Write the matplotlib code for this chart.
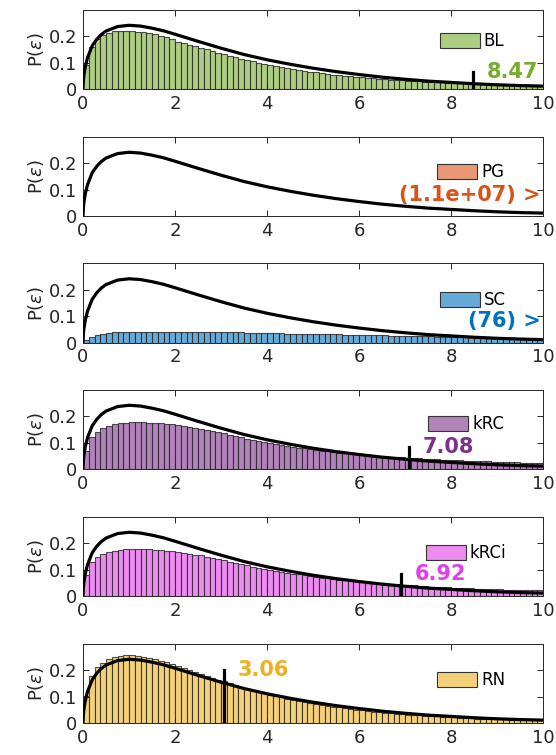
import matplotlib
matplotlib.use('Agg')
import matplotlib.pyplot as plt
import numpy as np

# reference curve P(eps)
curve_x = [0, 0.01, 0.02, 0.05, 0.1, 0.2, 0.3, 0.4, 0.5, 0.75, 1.0, 1.25, 1.5, 1.75, 2.0,
           2.5, 3.0, 3.5, 4.0, 4.5, 5.0, 5.5, 6.0, 6.5, 7.0, 7.5, 8.0, 8.5, 9.0, 9.5, 10.0]
curve_y = [0, 0.035, 0.052, 0.085, 0.12, 0.164, 0.189, 0.207, 0.22, 0.237, 0.242, 0.239,
           0.231, 0.221, 0.208, 0.181, 0.155, 0.131, 0.111, 0.094, 0.079, 0.066, 0.055,
           0.045, 0.037, 0.030, 0.025, 0.020, 0.016, 0.013, 0.011]

bin_width = 0.125

names = ['BL', 'PG', 'SC', 'kRC', 'kRCi', 'RN']
colors = ['#77ac30', '#d95319', '#0072bd', '#7e2f8e', '#df3fe8', '#edb120']

bl_hist = [0.090, 0.160, 0.190, 0.205, 0.214, 0.219, 0.222, 0.222, 0.220, 0.218, 0.215, 0.211, 0.207, 0.202, 0.197, 0.191,
           0.180, 0.174, 0.168, 0.162, 0.156, 0.150, 0.144, 0.138, 0.132, 0.126, 0.120, 0.115, 0.110, 0.105, 0.100, 0.095,
           0.090, 0.086, 0.082, 0.078, 0.075, 0.072, 0.069, 0.066, 0.063, 0.060, 0.058, 0.055, 0.053, 0.051, 0.049, 0.047,
           0.045, 0.043, 0.041, 0.039, 0.038, 0.036, 0.035, 0.033, 0.032, 0.031, 0.029, 0.028, 0.027, 0.026, 0.025, 0.024,
           0.023, 0.022, 0.021, 0.020, 0.019, 0.018, 0.017, 0.017, 0.016, 0.015, 0.014, 0.014, 0.013, 0.012, 0.012, 0.011]
pg_hist = []  # everything lies beyond the plotted range
sc_hist = [0.010, 0.022, 0.029, 0.033, 0.036, 0.038, 0.039, 0.040, 0.041, 0.041, 0.041, 0.041, 0.041, 0.041, 0.041, 0.041,
           0.041, 0.041, 0.040, 0.040, 0.040, 0.040, 0.039, 0.039, 0.039, 0.038, 0.038, 0.038, 0.037, 0.037, 0.036, 0.036,
           0.036, 0.035, 0.035, 0.034, 0.034, 0.034, 0.033, 0.033, 0.032, 0.032, 0.031, 0.031, 0.031, 0.030, 0.030, 0.029,
           0.029, 0.028, 0.028, 0.027, 0.027, 0.026, 0.026, 0.025, 0.025, 0.024, 0.024, 0.023, 0.023, 0.022, 0.022, 0.021,
           0.021, 0.020, 0.020, 0.019, 0.019, 0.018, 0.018, 0.018, 0.017, 0.017, 0.016, 0.016, 0.016, 0.015, 0.015, 0.015]
krc_hist = [0.070, 0.120, 0.140, 0.155, 0.164, 0.170, 0.174, 0.176, 0.177, 0.177, 0.177, 0.176, 0.175, 0.173, 0.171, 0.169,
            0.166, 0.163, 0.160, 0.157, 0.153, 0.150, 0.146, 0.142, 0.135, 0.130, 0.125, 0.120, 0.115, 0.111, 0.107, 0.103,
            0.098, 0.094, 0.090, 0.087, 0.084, 0.081, 0.078, 0.075, 0.072, 0.069, 0.067, 0.064, 0.062, 0.060, 0.058, 0.056,
            0.055, 0.053, 0.051, 0.050, 0.048, 0.047, 0.045, 0.044, 0.043, 0.041, 0.040, 0.039, 0.038, 0.037, 0.036, 0.035,
            0.034, 0.033, 0.032, 0.031, 0.030, 0.029, 0.029, 0.028, 0.027, 0.026, 0.026, 0.025, 0.024, 0.024, 0.023, 0.023]
krci_hist = [0.080, 0.130, 0.150, 0.160, 0.167, 0.172, 0.175, 0.177, 0.178, 0.178, 0.178, 0.177, 0.176, 0.174, 0.172, 0.170,
             0.167, 0.164, 0.161, 0.157, 0.154, 0.150, 0.146, 0.142, 0.136, 0.131, 0.126, 0.121, 0.116, 0.112, 0.108, 0.104,
             0.099, 0.095, 0.091, 0.088, 0.085, 0.082, 0.079, 0.076, 0.073, 0.070, 0.067, 0.065, 0.062, 0.060, 0.058, 0.057,
             0.056, 0.054, 0.052, 0.050, 0.048, 0.046, 0.045, 0.043, 0.042, 0.040, 0.039, 0.038, 0.036, 0.035, 0.034, 0.033,
             0.032, 0.031, 0.030, 0.029, 0.028, 0.027, 0.026, 0.026, 0.025, 0.024, 0.023, 0.023, 0.022, 0.022, 0.021, 0.021]
rn_hist = [0.103, 0.180, 0.212, 0.228, 0.243, 0.252, 0.256, 0.257, 0.257, 0.255, 0.252, 0.248, 0.243, 0.237, 0.231, 0.224,
           0.217, 0.210, 0.202, 0.195, 0.187, 0.180, 0.172, 0.165, 0.158, 0.151, 0.144, 0.138, 0.131, 0.125, 0.119, 0.113,
           0.108, 0.103, 0.098, 0.093, 0.088, 0.084, 0.080, 0.076, 0.072, 0.068, 0.065, 0.062, 0.059, 0.056, 0.053, 0.050,
           0.048, 0.045, 0.043, 0.041, 0.039, 0.037, 0.035, 0.033, 0.032, 0.030, 0.029, 0.027, 0.026, 0.025, 0.023, 0.022,
           0.021, 0.020, 0.019, 0.018, 0.017, 0.017, 0.016, 0.015, 0.014, 0.014, 0.013, 0.012, 0.012, 0.011, 0.011, 0.010]
hists = [bl_hist, pg_hist, sc_hist, krc_hist, krci_hist, rn_hist]

# marker value (None = off the axis, text shown at the right edge)
mark_x = [8.47, None, None, 7.08, 6.92, 3.06]
mark_top = [0.065, None, None, 0.083, 0.085, 0.203]
mark_text = ['8.47', '(1.1e+07) >', '(76) >', '7.08', '6.92', '3.06']

legend_y = [0.61, 0.56, 0.54, 0.565, 0.54, 0.54]
legend_x = [0.775, 0.77, 0.775, 0.75, 0.745, 0.77]

plt.rcParams['font.family'] = ['DejaVu Sans']
fig = plt.figure(figsize=(5.56, 7.55), dpi=100)

W, H = 556.0, 755.0
tops = [10, 137, 263.5, 390, 517, 644]
ax_h = 79

for i, name in enumerate(names):
    ax = fig.add_axes([83 / W, 1 - (tops[i] + ax_h) / H, 460 / W, ax_h / H])
    base = np.array(matplotlib.colors.to_rgb(colors[i]))
    face = 0.6 * base + 0.4

    h = hists[i]
    if len(h) > 0:
        edges = np.arange(len(h)) * bin_width
        ax.bar(edges, h, width=bin_width, align='edge', color=face,
               edgecolor=(0.1, 0.1, 0.1, 0.75), linewidth=0.8)
    ax.plot(curve_x, curve_y, color='black', linewidth=2.3, zorder=3)

    if mark_x[i] is not None:
        ax.plot([mark_x[i], mark_x[i]], [0, mark_top[i]], color='black',
                linewidth=2.3, zorder=4)
        ax.text(mark_x[i] + 0.3, mark_top[i], mark_text[i], color=colors[i],
                fontsize=15, fontweight='bold', ha='left', va='center')
    else:
        ax.text(0.995, 0.27, mark_text[i], color=colors[i], transform=ax.transAxes,
                fontsize=15, fontweight='bold', ha='right', va='center')

    handle = matplotlib.patches.Patch(facecolor=face, edgecolor='#333333', linewidth=0.8)
    ax.legend([handle], [name], loc='center left', bbox_to_anchor=(legend_x[i], legend_y[i]),
              frameon=False, fontsize=12, handlelength=2.4, handleheight=1.0,
              handletextpad=0.25, borderpad=0, borderaxespad=0)

    ax.set_xlim(0, 10)
    ax.set_ylim(0, 0.3)
    ax.set_xticks([0, 2, 4, 6, 8, 10])
    ax.set_yticks([0, 0.1, 0.2])
    ax.set_yticklabels(['0', '0.1', '0.2'])
    ax.tick_params(direction='in', top=True, right=True, length=4, width=0.7,
                   labelsize=13, colors='#262626', pad=4)
    for s in ax.spines.values():
        s.set_color('#262626')
        s.set_linewidth(0.7)
    ax.set_ylabel('P($\\epsilon$)', fontsize=13, color='#262626', labelpad=2)

fig.savefig('out.png', dpi=100)
